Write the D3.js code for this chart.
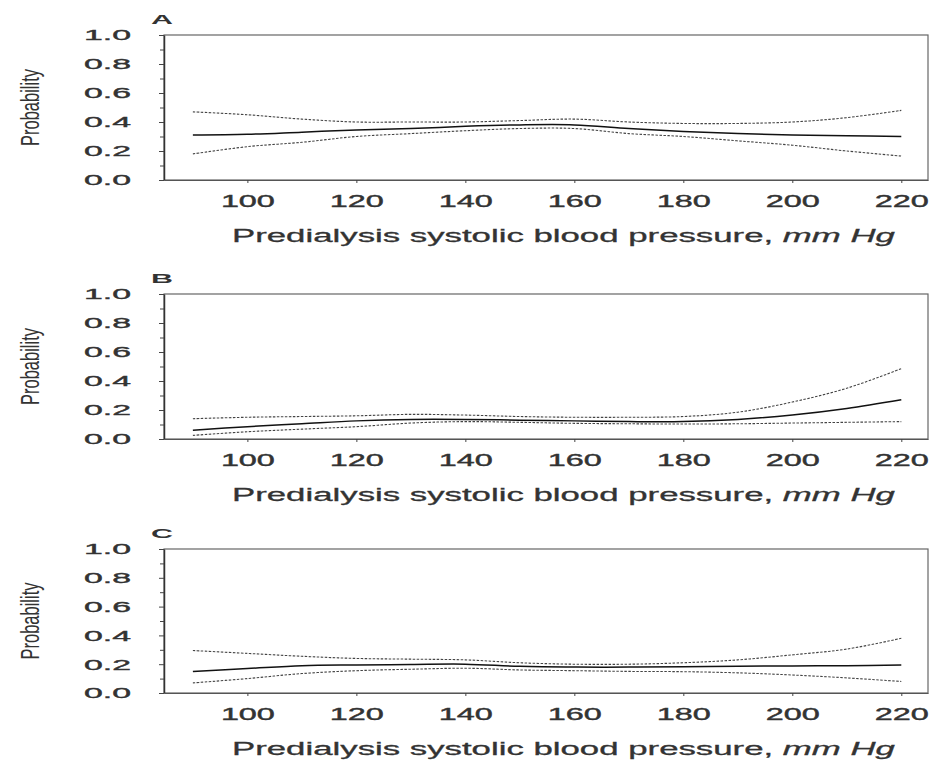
<!DOCTYPE html>
<html>
<head>
<meta charset="utf-8">
<script src="https://cdn.jsdelivr.net/npm/d3@7"></script>
<style>
  body { margin: 0; background: #fff; }
  text { font-family: "Liberation Sans", Arial, sans-serif; fill: #333; }
</style>
</head>
<body>
<div id="chart"></div>
<script>
// predialysis systolic blood pressure (mm Hg)
var sbp = [90, 100, 110, 120, 130, 140, 150, 160, 170, 180, 190, 200, 210, 220];

// panel A
var aUpper = [0.47, 0.45, 0.42, 0.40, 0.40, 0.40, 0.41, 0.42, 0.40, 0.39, 0.39, 0.40, 0.43, 0.48];
var aFit   = [0.31, 0.315, 0.33, 0.345, 0.355, 0.37, 0.38, 0.38, 0.355, 0.335, 0.32, 0.31, 0.305, 0.30];
var aLower = [0.18, 0.23, 0.26, 0.30, 0.32, 0.34, 0.355, 0.355, 0.32, 0.30, 0.27, 0.24, 0.20, 0.165];

// panel B
var bUpper = [0.14, 0.15, 0.155, 0.16, 0.17, 0.165, 0.155, 0.15, 0.15, 0.155, 0.185, 0.255, 0.35, 0.485];
var bFit   = [0.06, 0.085, 0.105, 0.125, 0.135, 0.135, 0.13, 0.125, 0.12, 0.12, 0.135, 0.165, 0.21, 0.27];
var bLower = [0.025, 0.05, 0.068, 0.085, 0.11, 0.12, 0.115, 0.108, 0.105, 0.103, 0.105, 0.11, 0.115, 0.12];

// panel C
var cUpper = [0.295, 0.275, 0.255, 0.24, 0.235, 0.23, 0.21, 0.2, 0.2, 0.21, 0.23, 0.265, 0.305, 0.38];
var cFit   = [0.15, 0.17, 0.19, 0.195, 0.198, 0.2, 0.185, 0.18, 0.18, 0.183, 0.186, 0.188, 0.19, 0.195];
var cLower = [0.07, 0.10, 0.135, 0.155, 0.165, 0.172, 0.16, 0.155, 0.15, 0.148, 0.14, 0.125, 0.105, 0.08];

var xTicks = [100, 120, 140, 160, 180, 200, 220];
var yTicks = [0, 0.2, 0.4, 0.6, 0.8, 1.0];
var yMinor = [0.1, 0.3, 0.5, 0.7, 0.9];

var panels = [
    { letter: "A", top: 35,  bottom: 180, upper: aUpper, fit: aFit, lower: aLower },
    { letter: "B", top: 294, bottom: 439, upper: bUpper, fit: bFit, lower: bLower },
    { letter: "C", top: 549, bottom: 693, upper: cUpper, fit: cFit, lower: cLower }
];

var width = 931, height = 760,
    left = 164, right = 928;

var svg = d3.select("#chart")
    .append("svg")
        .attr("width", width)
        .attr("height", height);

var x = d3.scaleLinear()
    .domain([84.7, 224.9])
    .range([left, right]);

// squeeze or widen a text element horizontally to a target width
function stretch(sel, target){
    var w = sel.node().getComputedTextLength();
    var k = target / w;
    var x0 = +sel.attr("x") || 0, y0 = +sel.attr("y") || 0;
    sel.attr("x", 0).attr("y", 0)
        .attr("transform", "translate(" + x0 + "," + y0 + ") scale(" + k + ",1)");
}

panels.forEach(function(p){
    var y = d3.scaleLinear()
        .domain([0, 1])
        .range([p.bottom, p.top]);

    var g = svg.append("g");

    // frame
    g.append("rect")
        .attr("x", left)
        .attr("y", p.top)
        .attr("width", right - left)
        .attr("height", p.bottom - p.top)
        .attr("fill", "none")
        .attr("stroke", "#666")
        .attr("stroke-width", 1.2);

    // y axis
    var yAxis = g.append("g")
        .attr("transform", "translate(" + left + ",0)")
        .call(d3.axisLeft(y).tickValues(yTicks).tickSize(5).tickSizeOuter(0).tickPadding(28)
            .tickFormat(d3.format(".1f")));
    yAxis.select(".domain").attr("stroke", "#333").attr("stroke-width", 1.5);
    yAxis.selectAll("line").attr("stroke", "#444");
    yAxis.selectAll("text")
        .attr("font-size", 15.5)
        .attr("textLength", 47)
        .attr("lengthAdjust", "spacingAndGlyphs")
        .attr("font-family", "Liberation Sans, Arial, sans-serif")
        .attr("fill", "#333")
        .attr("stroke", "#333")
        .attr("stroke-width", 0.4);

    g.append("g")
        .attr("transform", "translate(" + left + ",0)")
        .call(d3.axisLeft(y).tickValues(yMinor).tickSize(4).tickFormat(""))
        .call(function(s){ s.select(".domain").remove(); })
        .selectAll("line").attr("stroke", "#444");

    // x axis
    var xAxis = g.append("g")
        .attr("transform", "translate(0," + p.bottom + ")")
        .call(d3.axisBottom(x).tickValues(xTicks).tickSize(3).tickSizeOuter(0).tickPadding(12));
    xAxis.select(".domain").attr("stroke", "#555").attr("stroke-width", 1.2);
    xAxis.selectAll("line").attr("stroke", "#444");
    xAxis.selectAll("text")
        .attr("font-size", 17)
        .attr("textLength", 54)
        .attr("lengthAdjust", "spacingAndGlyphs")
        .attr("font-family", "Liberation Sans, Arial, sans-serif")
        .attr("fill", "#333")
        .attr("stroke", "#333")
        .attr("stroke-width", 0.4);

    // curves
    var line = d3.line()
        .x(function(d, i){ return x(sbp[i]); })
        .y(function(d){ return y(d); })
        .curve(d3.curveCatmullRom.alpha(0.5));

    [p.upper, p.lower].forEach(function(s){
        g.append("path")
            .attr("d", line(s))
            .attr("fill", "none")
            .attr("stroke", "#444")
            .attr("stroke-width", 1.1)
            .attr("stroke-dasharray", "2.5,1.5");
    });
    g.append("path")
        .attr("d", line(p.fit))
        .attr("fill", "none")
        .attr("stroke", "#111")
        .attr("stroke-width", 1.5);

    // panel letter
    var letter = g.append("text")
        .attr("x", 151)
        .attr("y", p.top - 11)
        .attr("font-size", 13)
        .attr("font-weight", "bold")
        .attr("fill", "#222")
        .text(p.letter);
    stretch(letter, 22);

    // y title
    g.append("text")
        .attr("transform", "translate(39," + ((p.top + p.bottom) / 2) + ") rotate(-90)")
        .attr("text-anchor", "middle")
        .attr("font-size", 26)
        .attr("textLength", 77)
        .attr("lengthAdjust", "spacingAndGlyphs")
        .text("Probability");

    // x title
    var title = g.append("text")
        .attr("x", 232)
        .attr("y", p.bottom + 62)
        .attr("font-size", 18)
        .attr("stroke", "#333")
        .attr("stroke-width", 0.3);
    title.append("tspan").text("Predialysis systolic blood pressure, ");
    title.append("tspan").attr("font-style", "italic").text("mm Hg");
    stretch(title, 663);
});
</script>
</body>
</html>
